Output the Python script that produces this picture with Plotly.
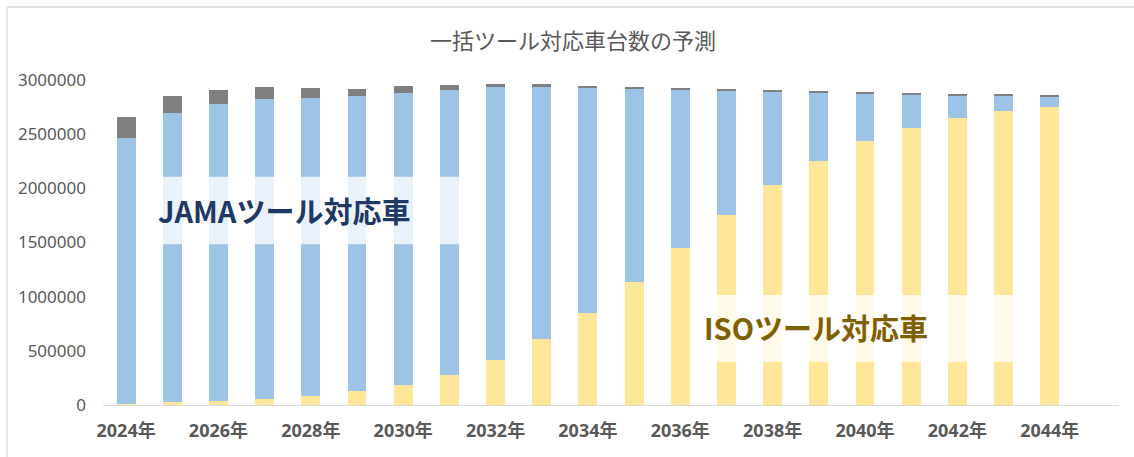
import plotly.graph_objects as go

years = list(range(2024, 2045))
iso_tool = [10000, 25000, 40000, 58000, 83000, 126000, 182000, 274000, 412000, 606000,
            852000, 1138000, 1452000, 1751000, 2028000, 2255000, 2434000, 2560000,
            2652000, 2714000, 2754000]
jama_tool = [2451000, 2667000, 2739000, 2770000, 2754000, 2729000, 2701000, 2634000,
             2521000, 2327000, 2081000, 1782000, 1456000, 1148000, 862000, 628000,
             440000, 305000, 207000, 139000, 92000]
other = [200000, 163000, 129000, 105000, 86000, 62000, 62000, 46000, 30000, 30000,
         15000, 15000, 15000, 15000, 15000, 13000, 15000, 12000, 9000, 9000, 9000]
tick_years = years[::2]
tick_labels = [f"{y}年" for y in tick_years]
y_ticks = [0, 500000, 1000000, 1500000, 2000000, 2500000, 3000000]

FONT = "Noto Sans, Noto Sans CJK JP, sans-serif"
BOLD_CJK = "Noto Sans CJK JP, Noto Sans, sans-serif"

fig = go.Figure()
fig.add_trace(go.Bar(x=years, y=iso_tool, name="ISOツール対応車",
                     marker=dict(color="#FFE699", line=dict(width=0)), width=0.41))
fig.add_trace(go.Bar(x=years, y=jama_tool, name="JAMAツール対応車",
                     marker=dict(color="#9DC3E6", line=dict(width=0)), width=0.41))
fig.add_trace(go.Bar(x=years, y=other, name="その他",
                     marker=dict(color="#7F7F7F", line=dict(width=0)), width=0.41))

L, R, T, B = 103, 15, 80, 52
W, H = 1134, 457
pw = W - L - R
ph = H - T - B


def px_x(p):
    return (p - L) / pw


def px_y(p):
    return (H - B - p) / ph


shapes = [
    # outer chart border
    dict(type="rect", xref="paper", yref="paper",
         x0=px_x(7), x1=px_x(1145), y0=px_y(470), y1=px_y(7),
         line=dict(color="#D9D9D9", width=1.3), fillcolor="rgba(0,0,0,0)", layer="below"),
    # label backgrounds
    dict(type="rect", xref="x", yref="y", x0=2024.47, x1=2031.40, y0=1483000, y1=2107000,
         fillcolor="rgba(255,255,255,0.78)", line=dict(width=0), layer="above"),
    dict(type="rect", xref="x", yref="y", x0=2036.32, x1=2043.36, y0=400000, y1=1015000,
         fillcolor="rgba(255,255,255,0.78)", line=dict(width=0), layer="above"),
]

annotations = [
    dict(x=2027.42, y=1800000, xref="x", yref="y", text="<b>JAMAツール対応車</b>",
         showarrow=False, font=dict(family=BOLD_CJK, size=29, color="#203864")),
    dict(x=2038.94, y=720000, xref="x", yref="y", text="<b>ISOツール対応車</b>",
         showarrow=False, font=dict(family=BOLD_CJK, size=29, color="#7F6000")),
]

fig.update_layout(
    width=W, height=H,
    margin=dict(l=L, r=R, t=T, b=B),
    barmode="stack",
    showlegend=False,
    plot_bgcolor="white",
    paper_bgcolor="white",
    font=dict(family=FONT, color="#595959"),
    title=dict(text="一括ツール対応車台数の予測", x=573 / W, xref="container", xanchor="center",
               y=1 - 41 / H, yref="container", yanchor="middle",
               font=dict(family=BOLD_CJK, size=22, color="#595959")),
    shapes=shapes,
    annotations=annotations,
)
fig.update_xaxes(
    range=[2023.5, 2045.5],
    tickmode="array", tickvals=tick_years, ticktext=tick_labels,
    tickfont=dict(family=FONT, size=18, color="#595959", weight="bold"),
    showgrid=False, zeroline=False,
    showline=True, linecolor="#D9D9D9", linewidth=1.3,
    ticks="", ticklabelstandoff=9,
)
fig.update_yaxes(
    range=[0, 3000000],
    tickmode="array", tickvals=y_ticks, ticktext=[str(v) for v in y_ticks],
    tickfont=dict(family=FONT, size=17, color="#595959"),
    showgrid=False, zeroline=False, showline=False,
    ticks="", ticklabelstandoff=16,
)

fig.write_html("out.html",
               config={"displayModeBar": False},
               post_script="document.body.style.margin='0';document.body.style.overflow='hidden';")
